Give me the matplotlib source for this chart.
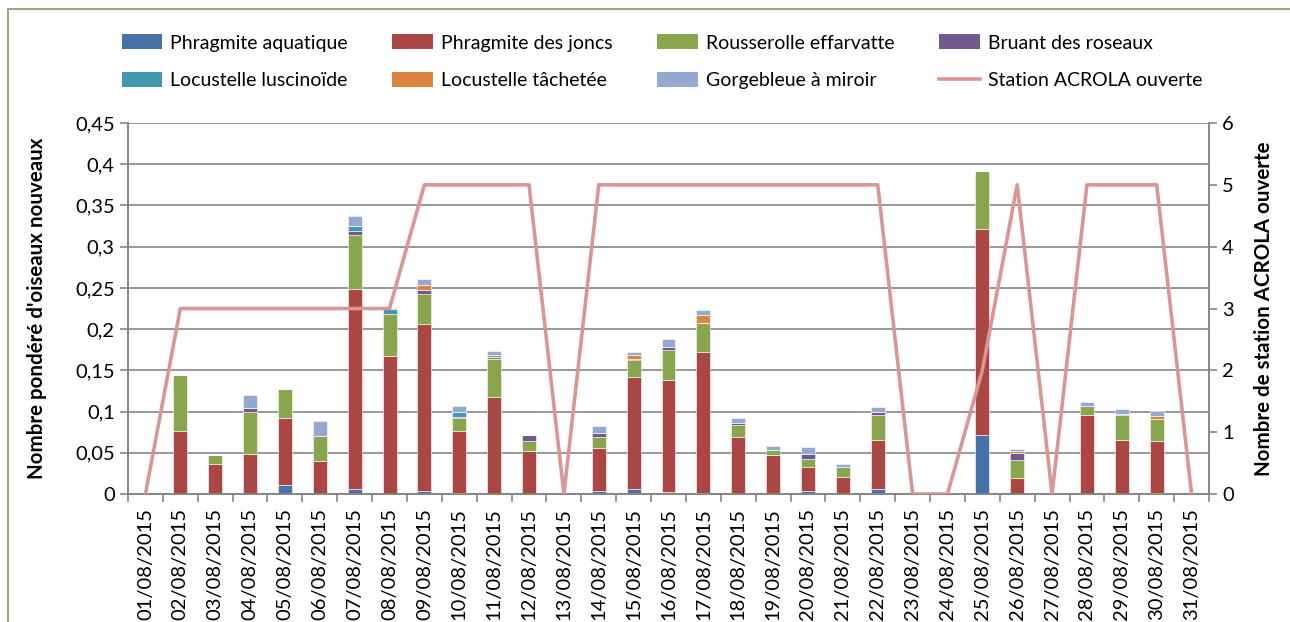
import matplotlib.pyplot as plt
import numpy as np
from matplotlib.patches import Patch, Rectangle
from matplotlib.lines import Line2D

plt.rcParams['font.family'] = ['Lato', 'DejaVu Sans']

dates = ["%02d/08/2015" % d for d in range(1, 32)]

aquatique = [0, 0, 0, 0, 0.011, 0, 0.006, 0, 0.004, 0.001, 0, 0, 0, 0.004, 0.006, 0.003,
             0.001, 0, 0, 0.004, 0, 0.006, 0, 0, 0.071, 0, 0, 0, 0, 0.001, 0]
joncs = [0, 0.077, 0.036, 0.049, 0.081, 0.040, 0.243, 0.167, 0.202, 0.076, 0.118, 0.052, 0,
         0.052, 0.136, 0.135, 0.171, 0.069, 0.047, 0.029, 0.021, 0.059, 0, 0, 0.250, 0.019,
         0, 0.096, 0.066, 0.063, 0]
effarvatte = [0, 0.067, 0.011, 0.050, 0.035, 0.030, 0.065, 0.051, 0.036, 0.015, 0.046, 0.012,
              0, 0.013, 0.020, 0.037, 0.035, 0.015, 0.006, 0.009, 0.012, 0.031, 0, 0, 0.071,
              0.022, 0, 0.011, 0.030, 0.027, 0]
bruant = [0, 0, 0, 0.005, 0, 0, 0.0055, 0, 0.005, 0.002, 0, 0.0073, 0, 0.005, 0.0017, 0.0033,
          0, 0.0017, 0, 0.007, 0, 0.003, 0, 0, 0, 0.0085, 0, 0, 0, 0, 0]
luscinoide = [0, 0, 0, 0, 0, 0, 0.006, 0.007, 0, 0.006, 0.002, 0, 0, 0, 0, 0,
              0, 0, 0, 0, 0, 0, 0, 0, 0, 0, 0, 0, 0.0015, 0, 0]
tachetee = [0, 0, 0, 0, 0, 0, 0, 0, 0.007, 0, 0.002, 0, 0, 0, 0.0044, 0,
            0.010, 0, 0, 0, 0, 0, 0, 0, 0, 0.0025, 0, 0, 0, 0.0036, 0]
gorgebleue = [0, 0, 0, 0.0165, 0, 0.018, 0.012, 0, 0.007, 0.007, 0.005, 0, 0, 0.0085, 0.0044,
              0.0097, 0.006, 0.007, 0.005, 0.008, 0.003, 0.0064, 0, 0, 0, 0.002, 0, 0.0045,
              0.0053, 0.0057, 0]
stations = [0, 3, 3, 3, 3, 3, 3, 3, 5, 5, 5, 5, 0, 5, 5, 5, 5, 5, 5, 5, 5, 5, 0, 0, 2, 5, 0,
            5, 5, 5, 0]

series = [
    ("Phragmite aquatique", aquatique, "#4572A7"),
    ("Phragmite des joncs", joncs, "#AA4643"),
    ("Rousserolle effarvatte", effarvatte, "#89A54E"),
    ("Bruant des roseaux", bruant, "#71588F"),
    ("Locustelle luscinoïde", luscinoide, "#4198AF"),
    ("Locustelle tâchetée", tachetee, "#DB843D"),
    ("Gorgebleue à miroir", gorgebleue, "#93A9CF"),
]
line_color = "#D99694"
grid_color = "#868686"

fig = plt.figure(figsize=(12.9, 6.22), dpi=100)
ax = fig.add_axes([128 / 1290, 128 / 622, 1081 / 1290, 371 / 622])

x = np.arange(len(dates))
bottom = np.zeros(len(dates))
for name, vals, col in series:
    vals = np.array(vals)
    ax.bar(x, vals, 0.4, bottom=bottom, color=col, edgecolor="white", linewidth=0.4, zorder=3)
    bottom += vals

ax.set_xlim(-0.5, len(dates) - 0.5)
ax.set_ylim(0, 0.45)
yt = np.arange(0, 0.451, 0.05)
ax.set_yticks(yt)
ax.set_yticklabels(["0", "0,05", "0,1", "0,15", "0,2", "0,25", "0,3", "0,35", "0,4", "0,45"],
                   fontsize=14.5)
ax.yaxis.grid(True, color=grid_color, linewidth=1.2, zorder=0)
ax.set_axisbelow(True)
ax.set_xticks(x)
ax.set_xticklabels(dates, rotation=90, fontsize=14.5)
ax.set_xticks(np.arange(-0.5, len(dates), 1), minor=True)
ax.tick_params(axis="x", which="major", length=0, pad=10)
ax.tick_params(axis="x", which="minor", length=6, color=grid_color, width=1.2)
ax.tick_params(axis="y", length=6, color=grid_color, width=1.2)
for s in ["left", "right", "bottom"]:
    ax.spines[s].set_color(grid_color)
    ax.spines[s].set_linewidth(1.2)
ax.spines["top"].set_visible(False)
ax.set_ylabel("Nombre pondéré d'oiseaux nouveaux", fontsize=14.8, fontweight="bold")
ax.yaxis.set_label_coords(-0.075, 0.5)

ax2 = ax.twinx()
ax2.plot(x, stations, color=line_color, linewidth=2.6, zorder=5)
ax2.set_ylim(0, 6)
ax2.set_yticks(range(0, 7))
ax2.tick_params(axis="y", length=6, color=grid_color, width=1.2, labelsize=14.5)
for s in ["left", "right", "bottom"]:
    ax2.spines[s].set_color(grid_color)
    ax2.spines[s].set_linewidth(1.2)
ax2.spines["top"].set_visible(False)
ax2.set_ylabel("Nombre de station ACROLA ouverte", fontsize=14.8, fontweight="bold")
ax2.yaxis.set_label_coords(1.042, 0.5)

handles = [Patch(facecolor=c, label=n) for n, v, c in series]
handles.append(Line2D([0], [0], color=line_color, linewidth=2.6, label="Station ACROLA ouverte"))
order = [0, 4, 1, 5, 2, 6, 3, 7]
fig.legend([handles[i] for i in order], [handles[i].get_label() for i in order],
           ncol=4, loc="upper left", bbox_to_anchor=(104 / 1290, 1 - 17 / 622),
           frameon=False, fontsize=14, handlelength=2.1, handleheight=0.8,
           columnspacing=2.3, labelspacing=1.05, handletextpad=0.4)

fig.patches.append(Rectangle((8 / 1290, -0.1), 1.2, 1 - 9 / 622 + 0.1,
                             transform=fig.transFigure, fill=False,
                             edgecolor="#A6A27A", linewidth=1.5))

fig.savefig("out.png", dpi=100)
